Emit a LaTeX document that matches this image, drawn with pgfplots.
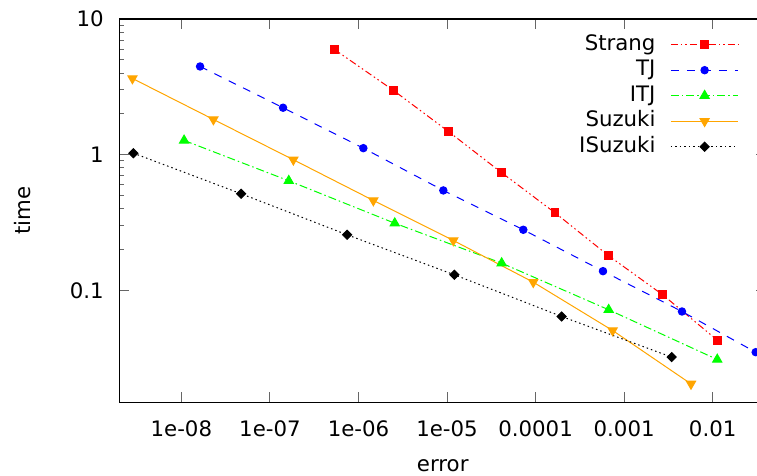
\documentclass[border=0pt]{standalone}
\usepackage{fontspec}
\setmainfont{DejaVu Sans}
\usepackage{pgfplots}
\pgfplotsset{compat=1.18}
\definecolor{gpred}{RGB}{255,0,0}
\definecolor{gpblue}{RGB}{0,0,255}
\definecolor{gpgreen}{RGB}{0,255,0}
\definecolor{gporange}{RGB}{255,165,0}
\begin{document}
\fontsize{21.3bp}{25bp}\selectfont
\begin{tikzpicture}
\begin{axis}[
  at={(0,0)}, anchor=south west,
  scale only axis,
  width=646.5bp, height=383.3bp,
  xmode=log, ymode=log,
  xmin=2e-9, xmax=0.04,
  ymin=0.015, ymax=10,
  xtick={1e-8,1e-7,1e-6,1e-5,1e-4,1e-3,1e-2},
  xticklabels={1e-08,1e-07,1e-06,1e-05,0.0001,0.001,0.01},
  ytick={0.1,1,10},
  yticklabels={0.1,1,10},
  xminorticks=false,
  tick align=inside,
  major tick length=10bp,
  minor tick length=5bp,
  tick style={line width=1bp, black!60},
  axis line style={line width=1.2bp, black},
  xticklabel style={yshift=-11.5bp},
  yticklabel style={xshift=-8.5bp},
  xlabel={error},
  ylabel={time},
  xlabel style={at={(axis description cs:0.5,-0.181)}, anchor=base},
  ylabel style={at={(axis description cs:-0.1493,0.5)}, anchor=center, rotate=0},
  legend plot pos=right,
  legend cell align=right,
  legend style={draw=none, fill=none, at={(axis description cs:0.9582,0.9596)}, anchor=north east,
    inner sep=0pt, column sep=15bp, row sep=5.5bp,
    nodes={inner sep=0pt, text height=15.5bp, text depth=4.5bp}},
  legend image code/.code={\draw[mark repeat=2,mark phase=2,#1] plot coordinates {(0bp,0bp) (33.65bp,0bp) (67.3bp,0bp)};},
  every axis plot/.append style={line width=1bp},
]
\addplot[gpred, dash pattern=on 7bp off 3bp on 1.5bp off 3bp on 1.5bp off 3bp, mark=square*, mark size=3.9bp, mark options={solid}] coordinates {
(5.34e-7,5.97) (2.48e-6,2.98) (1.035e-5,1.485) (4.14e-5,0.737) (1.657e-4,0.3737) (6.69e-4,0.180) (2.724e-3,0.0930) (1.138e-2,0.0428)};
\addlegendentry{Strang}
\addplot[gpblue, dash pattern=on 8bp off 8bp, mark=*, mark size=3.7bp, mark options={solid}] coordinates {
(1.626e-8,4.47) (1.406e-7,2.22) (1.135e-6,1.118) (9.08e-6,0.5457) (7.27e-5,0.280) (5.77e-4,0.1388) (4.50e-3,0.0700) (3.06e-2,0.0351)};
\addlegendentry{TJ}
\addplot[gpgreen, dash pattern=on 8bp off 3bp on 1.5bp off 3bp, mark=triangle*, mark size=5.3bp, mark options={solid}] coordinates {
(1.073e-8,1.275) (1.632e-7,0.643) (2.567e-6,0.313) (4.14e-5,0.159) (6.69e-4,0.0721) (1.126e-2,0.0310)};
\addlegendentry{ITJ}
\addplot[gporange, solid, mark=triangle*, mark size=5.3bp, mark options={solid, rotate=180}] coordinates {
(2.80e-9,3.65) (2.30e-8,1.82) (1.839e-7,0.919) (1.472e-6,0.4604) (1.178e-5,0.2336) (9.42e-5,0.1151) (7.42e-4,0.0507) (5.69e-3,0.0205)};
\addlegendentry{Suzuki}
\addplot[black, dash pattern=on 1.5bp off 3bp, mark=square*, mark size=3.2bp, mark options={solid, rotate=45}] coordinates {
(2.87e-9,1.027) (4.72e-8,0.516) (7.43e-7,0.2573) (1.209e-5,0.1305) (1.972e-4,0.0643) (3.44e-3,0.0323)};
\addlegendentry{ISuzuki}
\end{axis}
\pgfresetboundingbox
\path[use as bounding box] (-119.5bp,-73.7bp) rectangle (637.5bp,402.3bp);
\end{tikzpicture}
\end{document}
